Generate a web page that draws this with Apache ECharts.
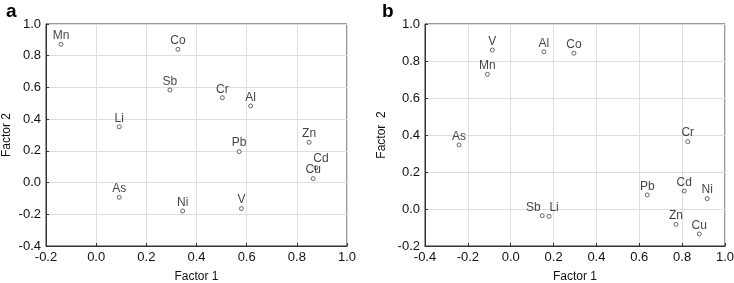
<!DOCTYPE html>
<html>
<head>
<meta charset="utf-8">
<script src="https://cdn.jsdelivr.net/npm/echarts@6/dist/echarts.min.js"></script>
<style>
  html, body { margin: 0; padding: 0; background: #fff; }
  #main { width: 734px; height: 283px; }
</style>
</head>
<body>
<div id="main"></div>
<script>
// panel a
var namesA = ['Mn', 'Co', 'Sb', 'Cr', 'Al', 'Li', 'Zn', 'Pb', 'Cd', 'Cu', 'As', 'Ni', 'V'];
var f1A = [-0.14, 0.326, 0.294, 0.503, 0.616, 0.092, 0.849, 0.57, 0.876, 0.865, 0.092, 0.345, 0.579];
var f2A = [0.872, 0.84, 0.584, 0.535, 0.483, 0.352, 0.254, 0.195, 0.094, 0.025, -0.093, -0.179, -0.164];

// panel b
var namesB = ['V', 'Al', 'Co', 'Mn', 'As', 'Cr', 'Pb', 'Cd', 'Ni', 'Sb', 'Li', 'Zn', 'Cu'];
var f1B = [-0.086, 0.155, 0.295, -0.109, -0.241, 0.826, 0.637, 0.81, 0.917, 0.147, 0.179, 0.771, 0.88];
var f2B = [0.859, 0.85, 0.842, 0.728, 0.346, 0.364, 0.076, 0.097, 0.056, -0.036, -0.04, -0.083, -0.135];

// axis ranges
var xRangeA = [-0.2, 1.0], yRangeA = [-0.4, 1.0];
var xRangeB = [-0.4, 1.0], yRangeB = [-0.2, 1.0];
var step = 0.2;

var font = 'Liberation Sans, Arial, sans-serif';
var txt = '#111';

function pts(names, xs, ys) {
    var out = [];
    for (var i = 0; i < names.length; i++) {
        var p = { name: names[i], value: [xs[i], ys[i]] };
        if (names[i] == 'Sb' && names === namesB) {
            p.label = { position: 'left', distance: 1, offset: [2, -8] };
        }
        if (names[i] == 'Li' && names === namesB) {
            p.label = { offset: [5, 0] };
        }
        if (names[i] == 'Cd' && names === namesA) {
            p.label = { offset: [5, 0] };
        }
        out.push(p);
    }
    return out;
}

function xAx(idx, r, name) {
    return {
        gridIndex: idx, type: 'value', min: r[0], max: r[1], interval: step,
        name: name, nameLocation: 'middle', nameGap: 25,
        nameTextStyle: { fontFamily: font, fontSize: 12, color: txt },
        axisLine: { show: true, onZero: false, lineStyle: { color: '#333' } },
        axisTick: { show: true, inside: true, length: 3, lineStyle: { color: '#333' } },
        axisLabel: { fontFamily: font, fontSize: 13, color: txt, margin: 5,
            formatter: function (v) { return v.toFixed(1); } },
        splitLine: { show: true, lineStyle: { color: '#dedede' } }
    };
}

function yAx(idx, r, name, gap) {
    return {
        gridIndex: idx, type: 'value', min: r[0], max: r[1], interval: step,
        name: name, nameLocation: 'middle', nameGap: gap,
        nameTextStyle: { fontFamily: font, fontSize: 12, color: txt },
        axisLine: { show: true, onZero: false, lineStyle: { color: '#333' } },
        axisTick: { show: true, inside: true, length: 3, lineStyle: { color: '#333' } },
        axisLabel: { fontFamily: font, fontSize: 13, color: txt, margin: 5,
            formatter: function (v) { return v.toFixed(1); } },
        splitLine: { show: true, lineStyle: { color: '#dedede' } }
    };
}

function ser(idx, data) {
    return {
        type: 'scatter', xAxisIndex: idx, yAxisIndex: idx,
        symbol: 'circle', symbolSize: 4,
        itemStyle: { color: '#fff', borderColor: '#444', borderWidth: 1 },
        label: {
            show: true, position: 'top', distance: 0,
            formatter: '{b}', fontFamily: font, fontSize: 12, color: txt
        },
        emphasis: { disabled: true },
        data: data
    };
}

var chart = echarts.init(document.getElementById('main'));
chart.setOption({
    animation: false,
    title: [
        { text: 'a', left: 1, top: -3, textStyle: { fontFamily: font, fontSize: 19, fontWeight: 'bold', color: '#000' } },
        { text: 'b', left: 377, top: -3, textStyle: { fontFamily: font, fontSize: 19, fontWeight: 'bold', color: '#000' } }
    ],
    grid: [
        { left: 46, right: 387, top: 24, bottom: 37, show: true, borderColor: '#333', borderWidth: 1, outerBoundsMode: 'none' },
        { left: 425, right: 9, top: 24, bottom: 37, show: true, borderColor: '#333', borderWidth: 1, outerBoundsMode: 'none' }
    ],
    xAxis: [xAx(0, xRangeA, 'Factor 1'), xAx(1, xRangeB, 'Factor 1')],
    yAxis: [yAx(0, yRangeA, 'Factor 2', 33), yAx(1, yRangeB, 'Factor  2', 37)],
    series: [ser(0, pts(namesA, f1A, f2A)), ser(1, pts(namesB, f1B, f2B))]
});
</script>
</body>
</html>
